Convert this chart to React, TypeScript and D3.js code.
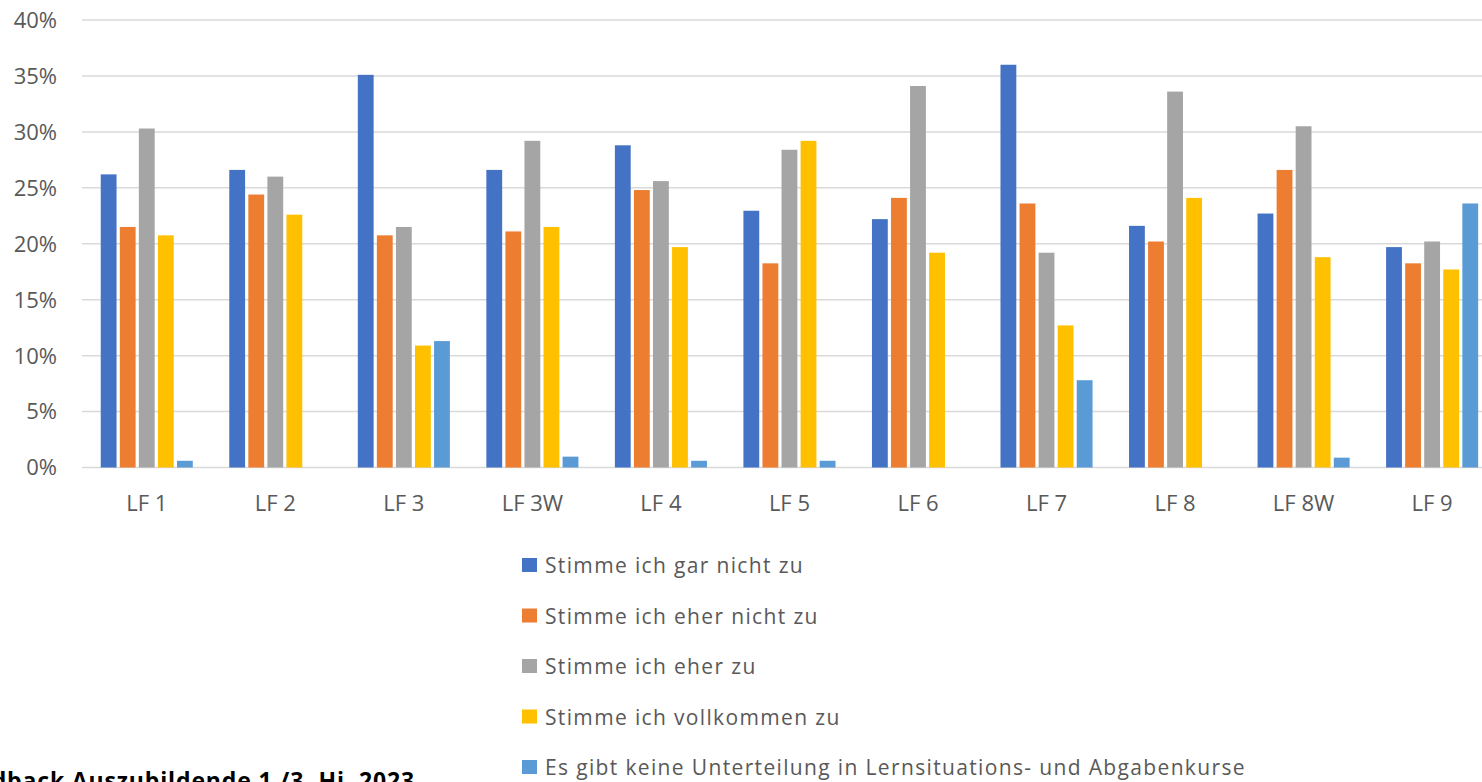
import * as d3 from 'd3';

const categories = ['LF 1', 'LF 2', 'LF 3', 'LF 3W', 'LF 4', 'LF 5', 'LF 6', 'LF 7', 'LF 8', 'LF 8W', 'LF 9'];

const seriesNames = [
  'Stimme ich gar nicht zu',
  'Stimme ich eher nicht zu',
  'Stimme ich eher zu',
  'Stimme ich vollkommen zu',
  'Es gibt keine Unterteilung in Lernsituations- und Abgabenkurse',
];

const garNicht = [26.2, 26.6, 35.1, 26.6, 28.8, 22.95, 22.2, 36.0, 21.6, 22.7, 19.7];
const eherNicht = [21.5, 24.4, 20.75, 21.1, 24.8, 18.25, 24.1, 23.6, 20.2, 26.6, 18.25];
const eherZu = [30.3, 26.0, 21.5, 29.2, 25.6, 28.4, 34.1, 19.2, 33.6, 30.5, 20.2];
const vollkommen = [20.75, 22.6, 10.9, 21.5, 19.7, 29.2, 19.2, 12.7, 24.1, 18.8, 17.7];
const keineUnterteilung = [0.6, 0, 11.3, 0.97, 0.6, 0.6, 0, 7.8, 0, 0.88, 23.6];

const seriesValues = [garNicht, eherNicht, eherZu, vollkommen, keineUnterteilung];
const colors = ['#4472C4', '#ED7D31', '#A5A5A5', '#FFC000', '#5B9BD5'];
const yTicks = [0, 5, 10, 15, 20, 25, 30, 35, 40];
const title = 'Feedback Auszubildende 1./3. Hj. 2023';

const W = 1482;
const H = 782;
const font = "'Open Sans', 'Noto Sans', sans-serif";

export default function App() {
  const x0 = d3
    .scaleBand<string>()
    .domain(categories)
    .range([82.5, 1496.4])
    .paddingInner(0.26)
    .paddingOuter(0.13);
  const x1 = d3
    .scaleBand<number>()
    .domain(d3.range(seriesNames.length))
    .range([0, x0.bandwidth()])
    .paddingInner(0.17)
    .paddingOuter(0.08);
  const y = d3.scaleLinear().domain([0, 40]).range([467.5, 20]);

  return (
    <div style={{ position: 'absolute', left: 0, top: 0, width: W, height: H, overflow: 'hidden', background: '#fff' }}>
      <svg width={W} height={H} style={{ display: 'block' }} fontFamily={font}>
        {yTicks.map((t) => (
          <g key={t}>
            <line x1={82} x2={W} y1={y(t)} y2={y(t)} stroke="#D9D9D9" strokeWidth={1.5} />
            <text x={57} y={y(t)} dy="0.36em" textAnchor="end" fontSize={22} fill="#595959">
              {`${t}%`}
            </text>
          </g>
        ))}
        {categories.map((c, ci) => (
          <g key={c} transform={`translate(${x0(c)},0)`}>
            {seriesValues.map((vals, si) =>
              vals[ci] > 0 ? (
                <rect
                  key={si}
                  x={x1(si)}
                  y={y(vals[ci])}
                  width={x1.bandwidth()}
                  height={y(0) - y(vals[ci])}
                  fill={colors[si]}
                />
              ) : null
            )}
            <text x={x0.bandwidth() / 2} y={511} textAnchor="middle" fontSize={22} fill="#595959">
              {c}
            </text>
          </g>
        ))}
        {seriesNames.map((s, i) => (
          <g key={s} transform={`translate(522,${558 + i * 50.5})`}>
            <rect x={0} y={0} width={15} height={14} fill={colors[i]} />
            <text x={23} y={15} fontSize={21} letterSpacing={1.35} fill="#595959">
              {s}
            </text>
          </g>
        ))}
        <text x={415} y={789} textAnchor="end" fontSize={23} letterSpacing={0.85} fontWeight="bold" fill="#000">
          {title}
        </text>
      </svg>
    </div>
  );
}
